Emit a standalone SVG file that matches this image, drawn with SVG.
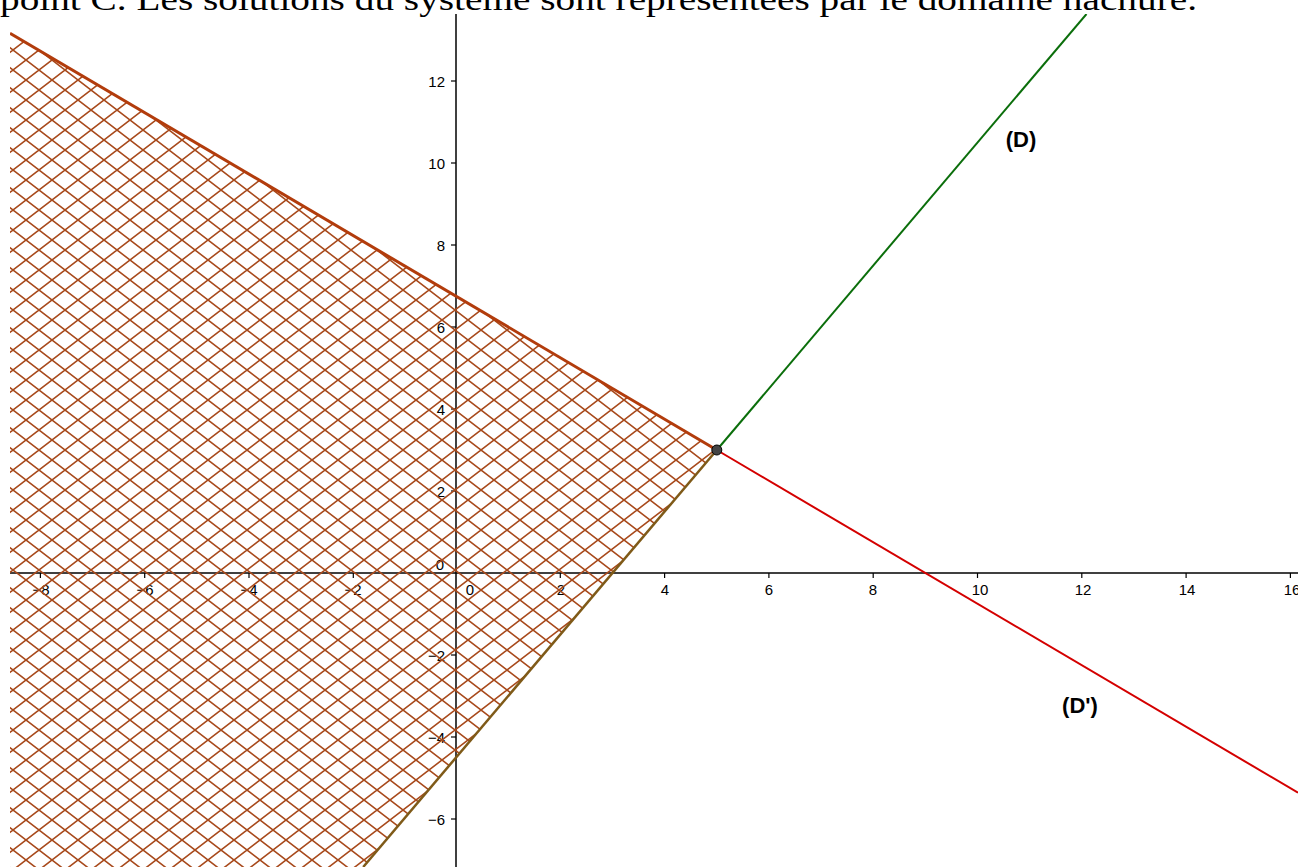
<svg xmlns="http://www.w3.org/2000/svg" width="1298" height="867" viewBox="0 0 1298 867">
  <style>
    .tick { stroke:#000; stroke-width:1.2; }
    .lbl { font-family:"Liberation Sans", Arial, sans-serif; font-size:15px; fill:#000; }
    .xl { text-anchor:middle; }
    .yl { text-anchor:end; }
    .name { font-family:"Liberation Sans", Arial, sans-serif; font-size:22px; font-weight:bold; fill:#000; text-anchor:middle; }
  </style>
  <defs>
    <pattern id="hatch" patternUnits="userSpaceOnUse" x="0" y="0" width="26" height="20">
      <path d="M-6.5,-5 L32.5,25 M-6.5,25 L32.5,-5" stroke="#a84a1c" stroke-width="1.6" fill="none"/>
    </pattern>
    <clipPath id="plot"><rect x="10" y="14" width="1288" height="853"/></clipPath>
  </defs>
  <rect width="1298" height="867" fill="#ffffff"/>
  <text x="0" y="10" font-family="'Liberation Serif', 'Times New Roman', serif" font-size="32" textLength="1197" lengthAdjust="spacingAndGlyphs" fill="#000">point C. Les solutions du système sont représentées par le domaine hachuré.</text>

  <g id="axes">
    <line x1="10" y1="573" x2="1298" y2="573" stroke="#000" stroke-width="1.5"/>
    <line x1="456" y1="14" x2="456" y2="867" stroke="#000" stroke-width="1.5"/>
    <g class="tick">
      <line x1="40.4" y1="573" x2="40.4" y2="578"/>
      <line x1="144.7" y1="573" x2="144.7" y2="578"/>
      <line x1="249" y1="573" x2="249" y2="578"/>
      <line x1="353.3" y1="573" x2="353.3" y2="578"/>
      <line x1="560.3" y1="573" x2="560.3" y2="578"/>
      <line x1="664.6" y1="573" x2="664.6" y2="578"/>
      <line x1="768.9" y1="573" x2="768.9" y2="578"/>
      <line x1="873.2" y1="573" x2="873.2" y2="578"/>
      <line x1="977.5" y1="573" x2="977.5" y2="578"/>
      <line x1="1081.8" y1="573" x2="1081.8" y2="578"/>
      <line x1="1186.1" y1="573" x2="1186.1" y2="578"/>
      <line x1="1290.4" y1="573" x2="1290.4" y2="578"/>
      <line x1="451" y1="81" x2="456" y2="81"/>
      <line x1="451" y1="163" x2="456" y2="163"/>
      <line x1="451" y1="245" x2="456" y2="245"/>
      <line x1="451" y1="327" x2="456" y2="327"/>
      <line x1="451" y1="409" x2="456" y2="409"/>
      <line x1="451" y1="491" x2="456" y2="491"/>
      <line x1="451" y1="655" x2="456" y2="655"/>
      <line x1="451" y1="737" x2="456" y2="737"/>
      <line x1="451" y1="819" x2="456" y2="819"/>
    </g>
    <g class="lbl xl">
      <text x="41" y="595">−8</text>
      <text x="145" y="595">−6</text>
      <text x="249" y="595">−4</text>
      <text x="353" y="595">−2</text>
      <text x="470" y="595">0</text>
      <text x="561" y="595">2</text>
      <text x="665" y="595">4</text>
      <text x="769" y="595">6</text>
      <text x="873" y="595">8</text>
      <text x="980" y="595">10</text>
      <text x="1083" y="595">12</text>
      <text x="1187" y="595">14</text>
      <text x="1292" y="595">16</text>
    </g>
    <g class="lbl yl">
      <text x="445" y="87">12</text>
      <text x="445" y="169">10</text>
      <text x="445" y="251">8</text>
      <text x="445" y="333">6</text>
      <text x="445" y="415">4</text>
      <text x="445" y="497">2</text>
      <text x="444" y="570">0</text>
      <text x="445" y="661">−2</text>
      <text x="445" y="743">−4</text>
      <text x="445" y="825">−6</text>
    </g>
  </g>

  <g id="domain" clip-path="url(#plot)">
    <polygon points="10,33.2 716.8,450 363.2,867 10,867" fill="url(#hatch)"/>
  </g>

  <g id="connectors" clip-path="url(#plot)" fill="none">
    <line id="D-lower" x1="716.8" y1="450" x2="363.2" y2="867" stroke="#7f5a18" stroke-width="2.5"/>
    <line id="Dp-upper" x1="10" y1="33.2" x2="716.8" y2="450" stroke="#b23c0c" stroke-width="3"/>
    <line id="D" x1="716.8" y1="450" x2="1086.5" y2="14" stroke="#0b6e0b" stroke-width="2"/>
    <line id="Dp" x1="716.8" y1="450" x2="1298" y2="792.7" stroke="#d40000" stroke-width="2"/>
  </g>

  <g id="point-C">
    <circle cx="716.8" cy="450" r="5" fill="#444444" stroke="#000" stroke-width="1"/>
  </g>
  <g id="label-D"><text class="name" x="1021" y="147">(D)</text></g>
  <g id="label-Dp"><text class="name" x="1080" y="713">(D')</text></g>
</svg>
